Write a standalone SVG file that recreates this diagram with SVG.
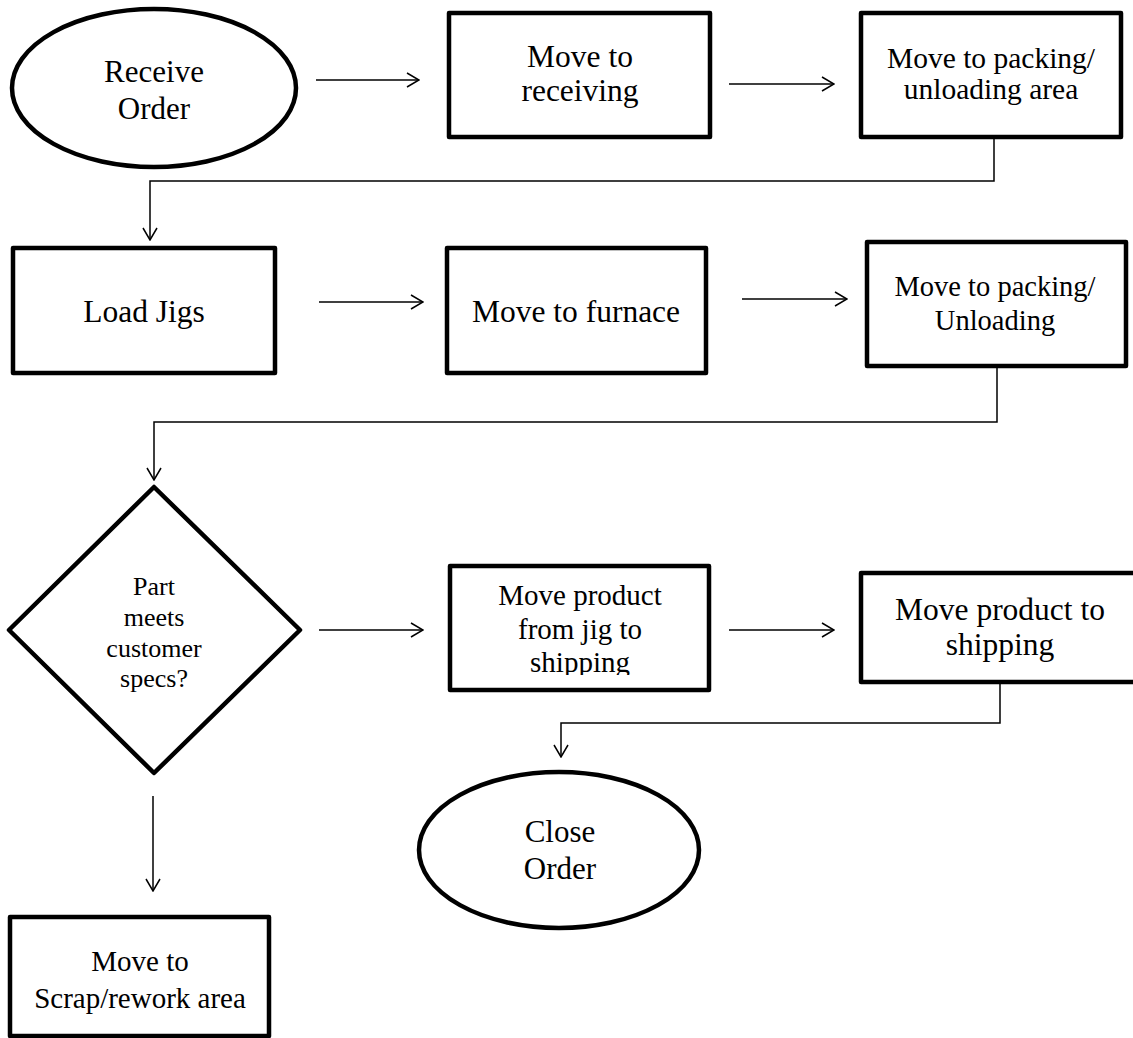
<svg xmlns="http://www.w3.org/2000/svg" width="1133" height="1038" viewBox="0 0 1133 1038">
<style>
.shape{fill:#fff;stroke:#000;stroke-width:4.5;stroke-linejoin:round}
.conn{fill:none;stroke:#000;stroke-width:1.5}
.t{font-family:"Liberation Serif","Times New Roman",serif;fill:#000;text-anchor:middle}
</style>
<defs>
<marker id="arr" viewBox="0 0 14 16" refX="13" refY="8" markerWidth="14" markerHeight="16" markerUnits="userSpaceOnUse" orient="auto">
<path d="M1,1 L13,8 L1,15" fill="none" stroke="#000" stroke-width="1.5"/>
</marker>
<clipPath id="clipJig"><rect x="450" y="566" width="259" height="109"/></clipPath>
</defs>
<rect width="1133" height="1038" fill="#fff"/>

<g id="receive-order">
<ellipse class="shape" cx="154" cy="88" rx="142" ry="79"/>
<text class="t" font-size="31"><tspan x="154" y="82">Receive</tspan><tspan x="154" y="119">Order</tspan></text>
</g>

<g id="move-to-receiving">
<rect class="shape" x="449" y="13" width="261" height="124"/>
<text class="t" font-size="31.5"><tspan x="580" y="67">Move to</tspan><tspan x="580" y="101">receiving</tspan></text>
</g>

<g id="move-to-packing-unloading-area">
<rect class="shape" x="861" y="13" width="260" height="124"/>
<text class="t" font-size="29.5"><tspan x="991" y="68">Move to packing/</tspan><tspan x="991" y="99">unloading area</tspan></text>
</g>

<g id="load-jigs">
<rect class="shape" x="13" y="248" width="262" height="125"/>
<text class="t" font-size="31.5" x="144" y="322">Load Jigs</text>
</g>

<g id="move-to-furnace">
<rect class="shape" x="447" y="248" width="259" height="125"/>
<text class="t" font-size="31.5" x="576" y="322">Move to furnace</text>
</g>

<g id="move-to-packing-unloading">
<rect class="shape" x="867" y="242" width="259" height="124"/>
<text class="t" font-size="28.5"><tspan x="995" y="296">Move to packing/</tspan><tspan x="995" y="330">Unloading</tspan></text>
</g>

<g id="decision-specs">
<polygon class="shape" points="154,487 300,630 154,773 9,630"/>
<text class="t" font-size="26"><tspan x="154" y="595">Part</tspan><tspan x="154" y="626">meets</tspan><tspan x="154" y="657">customer</tspan><tspan x="154" y="687">specs?</tspan></text>
</g>

<g id="move-product-from-jig">
<rect class="shape" x="450" y="566" width="259" height="124"/>
<g clip-path="url(#clipJig)">
<text class="t" font-size="29"><tspan x="580" y="605">Move product</tspan><tspan x="580" y="639">from jig to</tspan><tspan x="580" y="672">shipping</tspan></text>
</g>
</g>

<g id="move-product-to-shipping">
<rect class="shape" x="861" y="573" width="280" height="109"/>
<text class="t" font-size="31.5"><tspan x="1000" y="620">Move product to</tspan><tspan x="1000" y="655">shipping</tspan></text>
</g>

<g id="close-order">
<ellipse class="shape" cx="559" cy="850" rx="140" ry="78"/>
<text class="t" font-size="31"><tspan x="560" y="842">Close</tspan><tspan x="560" y="879">Order</tspan></text>
</g>

<g id="move-to-scrap">
<rect class="shape" x="10" y="917" width="259" height="119"/>
<text class="t" font-size="29"><tspan x="140" y="971">Move to</tspan><tspan x="140" y="1008">Scrap/rework area</tspan></text>
</g>

<g id="connectors">
<line class="conn" x1="316" y1="80" x2="419" y2="80" marker-end="url(#arr)"/>
<line class="conn" x1="729" y1="84" x2="834" y2="84" marker-end="url(#arr)"/>
<polyline class="conn" points="994,137 994,181 150,181 150,240" marker-end="url(#arr)"/>
<line class="conn" x1="319" y1="302" x2="423" y2="302" marker-end="url(#arr)"/>
<line class="conn" x1="742" y1="299" x2="847" y2="299" marker-end="url(#arr)"/>
<polyline class="conn" points="997,366 997,422 154,422 154,480" marker-end="url(#arr)"/>
<line class="conn" x1="319" y1="630" x2="423" y2="630" marker-end="url(#arr)"/>
<line class="conn" x1="729" y1="630" x2="834" y2="630" marker-end="url(#arr)"/>
<polyline class="conn" points="1000,682 1000,723 561,723 561,757" marker-end="url(#arr)"/>
<line class="conn" x1="153" y1="796" x2="153" y2="891" marker-end="url(#arr)"/>
</g>
</svg>
